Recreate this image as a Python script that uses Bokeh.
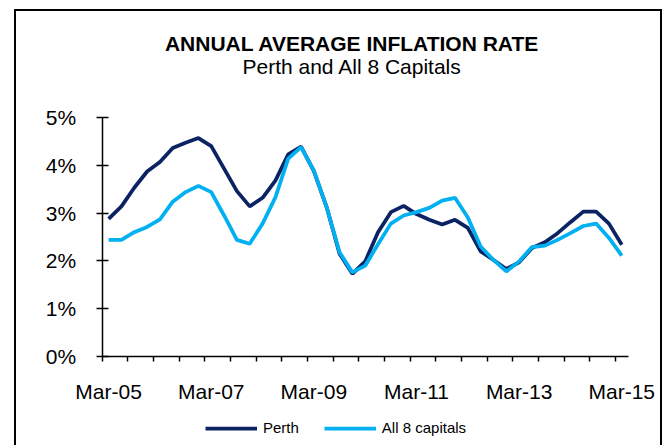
from bokeh.plotting import figure
from bokeh.models import (Range1d, FixedTicker, Legend, LegendItem, Label,
                          ColumnDataSource, InlineStyleSheet)
from bokeh.embed import file_html
from bokeh.resources import INLINE

# Quarterly observations, Mar-05 .. Mar-15 (41 quarters)
quarter_index = list(range(41))
perth = [2.88, 3.14, 3.53, 3.87, 4.07, 4.36, 4.47, 4.57, 4.40, 3.93,
         3.46, 3.14, 3.32, 3.68, 4.23, 4.39, 3.88, 3.12, 2.15, 1.73,
         1.99, 2.60, 3.02, 3.15, 2.98, 2.86, 2.76, 2.86, 2.69, 2.20,
         2.02, 1.83, 1.97, 2.27, 2.39, 2.58, 2.81, 3.03, 3.03, 2.78,
         2.34]
all8 = [2.44, 2.44, 2.60, 2.71, 2.87, 3.24, 3.44, 3.57, 3.44, 2.95,
        2.44, 2.36, 2.78, 3.33, 4.14, 4.38, 3.89, 3.12, 2.18, 1.76,
        1.90, 2.35, 2.78, 2.95, 3.02, 3.11, 3.26, 3.32, 2.91, 2.30,
        2.02, 1.78, 1.99, 2.29, 2.32, 2.44, 2.58, 2.73, 2.78, 2.48,
        2.11]

x_label_pos = [0, 8, 16, 24, 32, 40]
x_labels = ["Mar-05", "Mar-07", "Mar-09", "Mar-11", "Mar-13", "Mar-15"]
x_minor_pos = [-0.5 + 2 * k for k in range(21)]
y_ticks = [0, 1, 2, 3, 4, 5]
y_labels = ["0%", "1%", "2%", "3%", "4%", "5%"]

title_text = "ANNUAL AVERAGE INFLATION RATE"
subtitle_text = "Perth and All 8 Capitals"
series_names = ["Perth", "All 8 capitals"]
colors = ["#0B2363", "#00B0F0"]

FONT = "Liberation Sans"
W, H = 664, 445

src = ColumnDataSource(dict(x=quarter_index, perth=perth, all8=all8))

# The frame covers the whole canvas; axes are drawn at fixed data locations.
p = figure(width=W, height=H, output_backend="svg", toolbar_location=None,
           x_range=Range1d(-8.427, 43.33), y_range=Range1d(-1.862, 7.448),
           min_border_left=0, min_border_right=0,
           min_border_top=0, min_border_bottom=0)
p.outline_line_color = None
p.xgrid.visible = False
p.ygrid.visible = False
p.background_fill_color = "white"
p.border_fill_color = "white"

r1 = p.line("x", "perth", source=src, line_color=colors[0], line_width=3.75)
r2 = p.line("x", "all8", source=src, line_color=colors[1], line_width=3.75)

# x axis
xa = p.xaxis[0]
xa.fixed_location = 0
xa.bounds = (-0.5, 40.5)
xa.ticker = FixedTicker(ticks=x_label_pos, minor_ticks=x_minor_pos)
xa.major_label_overrides = {pos: lab for pos, lab in zip(x_label_pos, x_labels)}
xa.major_tick_out = 0
xa.major_tick_in = 0
xa.minor_tick_out = 5
xa.minor_tick_in = 0
xa.major_label_standoff = 18
xa.major_label_text_font = FONT
xa.major_label_text_font_size = "21px"
xa.major_label_text_color = "black"
xa.axis_line_color = "black"
xa.axis_line_width = 1.5
xa.major_tick_line_color = "black"
xa.minor_tick_line_color = "black"
xa.minor_tick_line_width = 1.5

# y axis
ya = p.yaxis[0]
ya.fixed_location = -0.5
ya.bounds = (0, 5)
ya.ticker = FixedTicker(ticks=y_ticks)
ya.major_label_overrides = {t: l for t, l in zip(y_ticks, y_labels)}
ya.major_tick_in = 6
ya.major_tick_out = 6
ya.minor_tick_line_color = None
ya.major_label_standoff = 20
ya.major_label_text_font = FONT
ya.major_label_text_font_size = "21px"
ya.major_label_text_color = "black"
ya.axis_line_color = "black"
ya.axis_line_width = 1.5
ya.major_tick_line_color = "black"
ya.major_tick_line_width = 1.5

# titles (screen units relative to the frame's bottom-left corner)
p.add_layout(Label(x=351.7, y=401.7, x_units="screen", y_units="screen",
                   text=title_text, text_align="center", text_baseline="alphabetic",
                   text_font=FONT, text_font_size="21px", text_font_style="bold",
                   text_color="black"))
p.add_layout(Label(x=351.7, y=379, x_units="screen", y_units="screen",
                   text=subtitle_text, text_align="center", text_baseline="alphabetic",
                   text_font=FONT, text_font_size="21px", text_color="black"))

# legend below the x axis
legend = Legend(items=[LegendItem(label=series_names[0], renderers=[r1]),
                       LegendItem(label=series_names[1], renderers=[r2])],
                orientation="horizontal", location=(205, 9),
                padding=0, margin=0, spacing=25, label_standoff=6,
                glyph_width=52, glyph_height=16,
                label_text_font=FONT, label_text_font_size="15px",
                label_text_color="black",
                border_line_color=None, background_fill_alpha=0)
p.add_layout(legend, "center")

# chart frame drawn with CSS around the canvas
p.stylesheets = [InlineStyleSheet(css=(
    ":host::after { content: ''; position: absolute; left: 14px; top: 9px; "
    "width: 648px; height: 436px; border: 2px solid black; border-bottom: none; "
    "box-sizing: border-box; pointer-events: none; }"))]

open("out.html", "w").write(file_html(p, INLINE))
